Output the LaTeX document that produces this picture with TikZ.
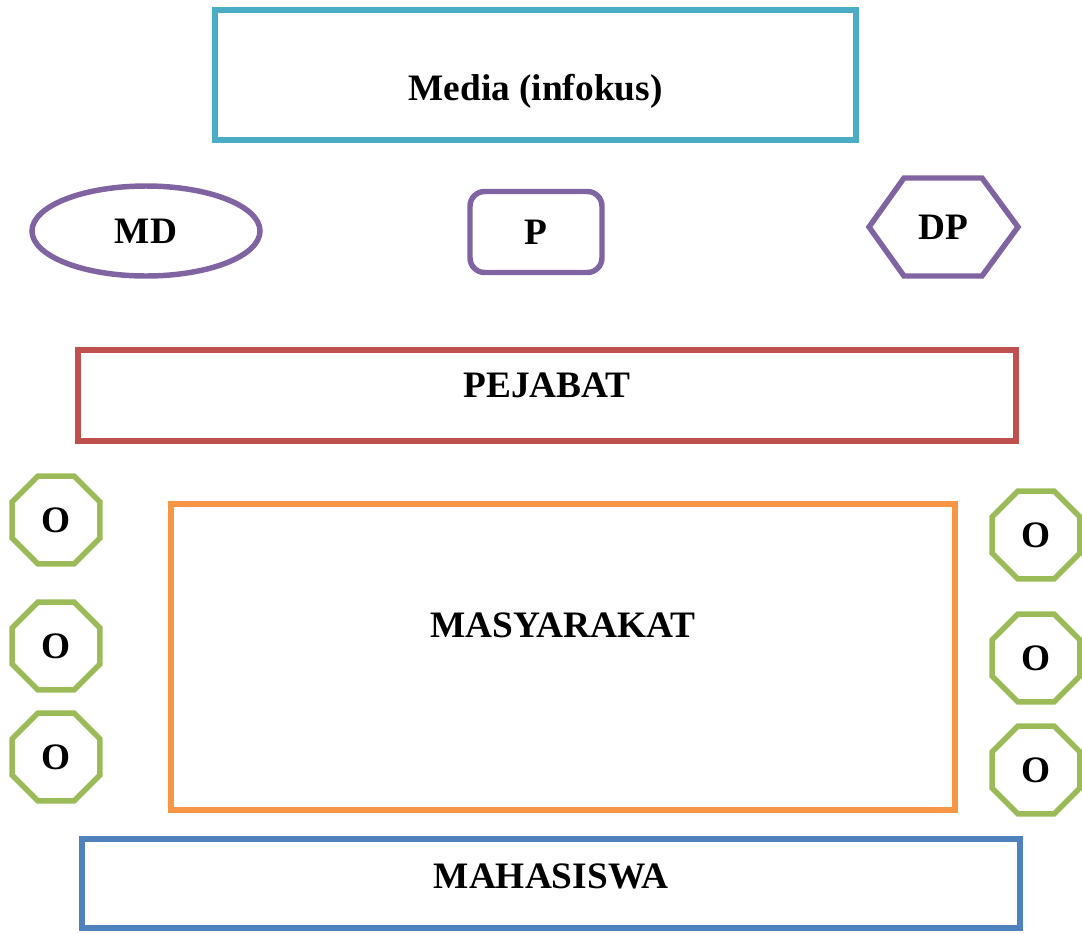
\documentclass[tikz,border=0pt]{standalone}
\usepackage{fontspec}
\setmainfont{Liberation Serif}
\usetikzlibrary{shapes.geometric,calc}
\definecolor{cmedia}{HTML}{4BACC6}
\definecolor{cpurple}{HTML}{8064A2}
\definecolor{cred}{HTML}{C0504D}
\definecolor{corange}{HTML}{F79646}
\definecolor{cgreen}{HTML}{9BBB59}
\definecolor{cblue}{HTML}{4F81BD}
\begin{document}
\begin{tikzpicture}[x=0.75pt,y=-0.75pt,
  lbl/.style={font=\fontsize{28}{32}\selectfont\bfseries, text=black},
  boxsh/.style={draw, line width=4.1pt, rectangle, inner sep=0pt, lbl},
  octo/.style={draw=cgreen, line width=4.1pt, regular polygon, regular polygon sides=8, minimum size=95*0.75pt, inner sep=0pt, lbl}
]
\useasboundingbox (0,0) rectangle (1082,933);
% Media
\node[boxsh, draw=cmedia, minimum width=641*0.75pt, minimum height=130*0.75pt,
  label={[lbl, yshift=-12.5pt]center:{Media (infokus)}}] (media) at (535.5,75) {};
% MD
\node[draw=cpurple, line width=4.1pt, ellipse, minimum width=228*0.75pt, minimum height=90*0.75pt, inner sep=0pt, lbl] (md) at (146,231) {MD};
% P
\node[boxsh, draw=cpurple, rounded corners=11pt, minimum width=132*0.75pt, minimum height=81*0.75pt] (p) at (536,232) {P};
% DP
\node[lbl] (dp) at (943,227) {DP};
\draw[cpurple, line width=4.1pt, line join=miter]
  ($(dp)+(-74,0)$) -- ($(dp)+(-39,-49)$) -- ($(dp)+(39,-49)$) -- ($(dp)+(75,0)$)
  -- ($(dp)+(39,49)$) -- ($(dp)+(-39,49)$) -- cycle;
% PEJABAT
\node[boxsh, draw=cred, minimum width=938*0.75pt, minimum height=91*0.75pt,
  label={[lbl, yshift=7.5pt]center:{PEJABAT}}] (pejabat) at (547,395.5) {};
% MASYARAKAT
\node[boxsh, draw=corange, minimum width=784*0.75pt, minimum height=306*0.75pt,
  label={[lbl, yshift=24pt]center:{MASYARAKAT}}] (masy) at (563,657) {};
% MAHASISWA
\node[boxsh, draw=cblue, minimum width=938*0.75pt, minimum height=89*0.75pt,
  label={[lbl, yshift=5.5pt]center:{MAHASISWA}}] (maha) at (551,883.5) {};
% Octagons
\node[octo] (ol1) at (56,520) {O};
\node[octo] (ol2) at (56,646) {O};
\node[octo] (ol3) at (56,757) {O};
\node[octo] (or1) at (1036,535) {O};
\node[octo] (or2) at (1036,658) {O};
\node[octo] (or3) at (1036,770) {O};
\end{tikzpicture}
\end{document}
